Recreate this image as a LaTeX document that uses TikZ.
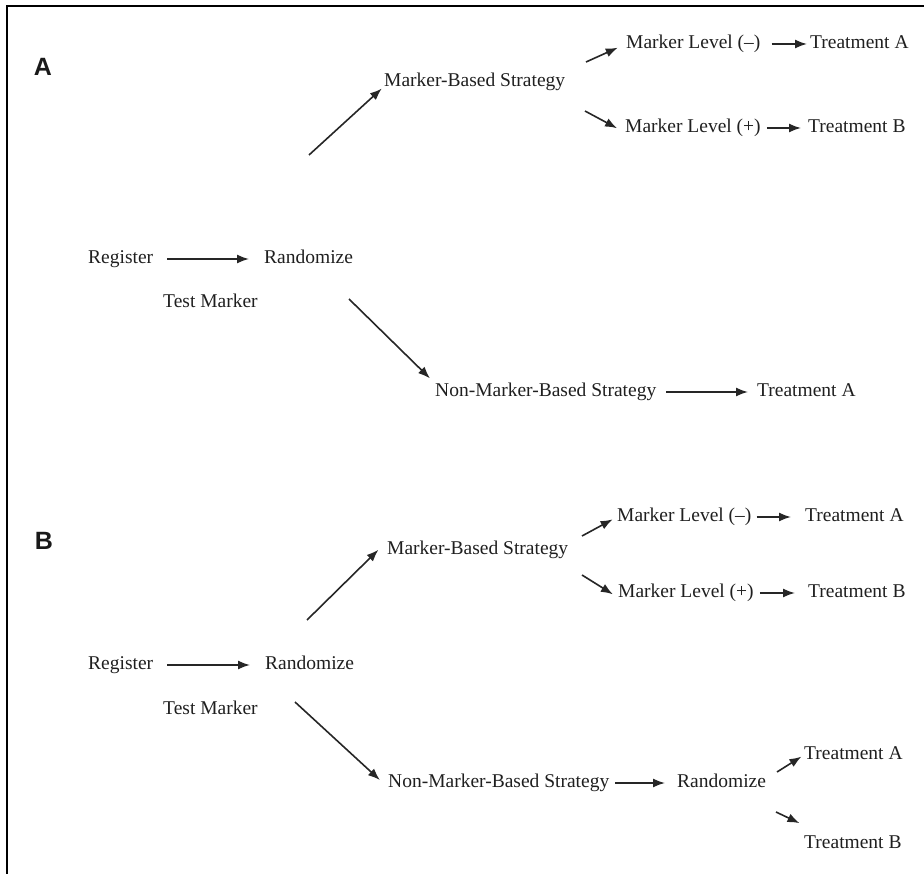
\documentclass[tikz,border=0pt]{standalone}
\usepackage{fontspec}
\setmainfont{Liberation Serif}
\newfontfamily\panelfont{Liberation Sans}
\usetikzlibrary{arrows.meta}
\tikzset{
	txt/.style={font=\fontsize{19.5}{23}\selectfont, text=black!88, inner sep=0pt, text height=13pt, text depth=4pt, anchor=base west},
	panel/.style={font=\panelfont\bfseries\fontsize{25}{30}\selectfont, text=black!90, inner sep=0pt},
	arr/.style={draw=black!85, line width=1.6pt, -{Latex[length=12pt,width=9pt]}}
}

\begin{document}
\begin{tikzpicture}[x=1pt, y=-1pt]
				\useasboundingbox (0,0) rectangle (924,874);
				\draw[line width=1.8pt] (7,874) -- (7,6) -- (924,6);
				
				\node[panel] (lblA) at (43,67) {A};
				\node[txt] (mbsA) at (384,86.5) {Marker-Based Strategy};
				\node[txt] (mlnA) at (626,48.5) {Marker Level (\textendash)};
				\node[txt] (trA1) at (810,48.5) {Treatment A};
				\node[txt] (mlpA) at (625,132.5) {Marker Level (+)};
				\node[txt] (trB1) at (808,132.5) {Treatment B};
				\node[txt] (regA) at (88,263.5) {Register};
				\node[txt] (randA) at (264,263.5) {Randomize};
				\node[txt] (testA) at (163,307.5) {Test Marker};
				\node[txt] (nmbsA) at (435,396.5) {Non-Marker-Based Strategy};
				\node[txt] (trA2) at (757,396.5) {Treatment A};
				
				\coordinate (tA1) at (309,155);
				\coordinate (tA2) at (586,62);
				\coordinate (tA3) at (585,111);
				\coordinate (tA4) at (349,299);
				
				\draw[arr, shorten <=14pt, shorten >=15pt] (regA) -- (randA);
				\draw[arr, shorten >=3pt] (tA1) -- (mbsA.base west);
				\draw[arr, shorten >=9pt] (tA2) -- (mlnA.west);
				\draw[arr, shorten >=9pt] (tA3) -- (mlpA.base west);
				\draw[arr, shorten <=11pt, shorten >=3pt] (mlnA) -- (trA1);
				\draw[arr, shorten <=6pt, shorten >=7pt] (mlpA) -- (trB1);
				\draw[arr, shorten >=7pt] (tA4) -- (nmbsA.north west);
				\draw[arr, shorten <=10pt, shorten >=9pt] (nmbsA) -- (trA2);
				
				\node[panel] (lblB) at (44,541) {B};
				\node[txt] (mbsB) at (387,554.5) {Marker-Based Strategy};
				\node[txt] (mlnB) at (617,521.5) {Marker Level (\textendash)};
				\node[txt] (trA3) at (805,521.5) {Treatment A};
				\node[txt] (mlpB) at (618,597.5) {Marker Level (+)};
				\node[txt] (trB2) at (808,597.5) {Treatment B};
				\node[txt] (regB) at (88,669.5) {Register};
				\node[txt] (randB) at (265,669.5) {Randomize};
				\node[txt] (testB) at (163,714.5) {Test Marker};
				\node[txt] (nmbsB) at (388,787.5) {Non-Marker-Based Strategy};
				\node[txt] (rand2B) at (677,787.5) {Randomize};
				\node[txt] (trA4) at (804,759.5) {Treatment A};
				\node[txt] (trB3) at (804,848.5) {Treatment B};
				
				\coordinate (tB1) at (307,620);
				\coordinate (tB2) at (582,536);
				\coordinate (tB3) at (582,575);
				\coordinate (tB4) at (295,702);
				\coordinate (tB5) at (777,772);
				\coordinate (tB6) at (776,812);
				
				\draw[arr, shorten <=14pt, shorten >=15pt] (regB) -- (randB);
				\draw[arr, shorten >=12pt] (tB1) -- (mbsB.north west);
				\draw[arr, shorten >=5pt] (tB2) -- (mlnB.west);
				\draw[arr, shorten >=6pt] (tB3) -- (mlpB.base west);
				\draw[arr, shorten <=5pt, shorten >=14pt] (mlnB) -- (trA3);
				\draw[arr, shorten <=6pt, shorten >=13pt] (mlpB) -- (trB2);
				\draw[arr, shorten >=11pt] (tB4) -- (nmbsB.base west);
				\draw[arr, shorten <=6pt, shorten >=12pt] (nmbsB) -- (rand2B);
				\draw[arr, shorten >=3pt] (tB5) -- (trA4.west);
				\draw[arr, shorten >=5pt] (tB6) -- ([yshift=10pt]trB3.north west);
\end{tikzpicture}
\end{document}
